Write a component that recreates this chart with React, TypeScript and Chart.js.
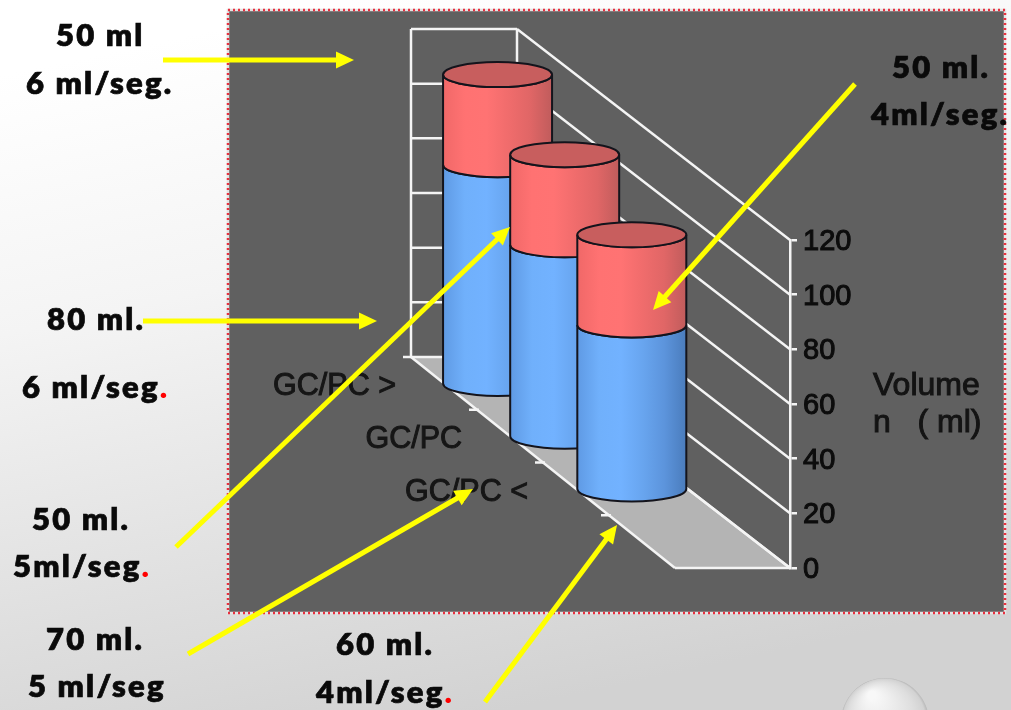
import React, { useEffect, useRef } from "react";
import { Chart, registerables } from "chart.js";

Chart.register(...registerables);

// Series read per injection protocol; the empty fourth slot is part of the depth axis.
const categories = ["GC/PC >", "GC/PC", "GC/PC <", ""];
const flushVolume = [80, 70, 60, null];
const contrastVolume = [50, 50, 50, null];
const volumeTicks = { min: 0, max: 120, step: 20 };
const axisTitle = ["Volume", "n   ( ml)"];

// Callouts: text lines with a flag for the red full stop used on some of them.
const callouts = [
  { lines: [["50 ml", false], ["6 ml/seg.", false]], at: [[56, 46], [26, 94]], arrow: [163, 60, 354, 60] },
  { lines: [["80 ml.", false], ["6 ml/seg", true]], at: [[47, 330], [22, 398]], arrow: [143, 321, 377, 321] },
  { lines: [["50 ml.", false], ["5ml/seg", true]], at: [[32, 530], [13, 577]], arrow: [176, 547, 510, 227] },
  { lines: [["70 ml.", false], ["5 ml/seg", false]], at: [[46, 650], [28, 697]], arrow: [188, 654, 473, 489] },
  { lines: [["60 ml.", false], ["4ml/seg", true]], at: [[336, 655], [316, 703]], arrow: [485, 702, 617, 525] },
  { lines: [["50 ml.", false], ["4ml/seg.", false]], at: [[892, 78], [871, 125]], arrow: [855, 84, 653, 310] },
] as const;

// Oblique projection of the plot box.
const WALL_LEFT = 411;
const WALL_WIDTH = 106;
const DEPTH_DX_NEAR = 264;
const DEPTH_DX_FAR = 273;
const DEPTH_DY = 211;
const CYL_RX = 54.5;
const CYL_RY = 12.5;

const project = (t: number, s: number, yPixel: number) => ({
  x: WALL_LEFT + s * WALL_WIDTH + t * (DEPTH_DX_NEAR + s * (DEPTH_DX_FAR - DEPTH_DX_NEAR)),
  y: yPixel - (1 - t) * DEPTH_DY,
});

// Depth fraction of a category, taken from the category scale.
const depthOf = (chart: any, index: number) =>
  (chart.scales.x.getPixelForValue(index) - chart.chartArea.left) / (chart.chartArea.right - chart.chartArea.left);

function line(ctx: CanvasRenderingContext2D, x0: number, y0: number, x1: number, y1: number) {
  ctx.beginPath();
  ctx.moveTo(x0, y0);
  ctx.lineTo(x1, y1);
  ctx.stroke();
}

function drawBackdrop(chart: any) {
  const { ctx, width, height } = chart;
  const page = ctx.createLinearGradient(width * 0.35, 0, width * 0.5, height);
  page.addColorStop(0, "#ffffff");
  page.addColorStop(0.35, "#f4f4f4");
  page.addColorStop(1, "#d2d2d2");
  ctx.fillStyle = page;
  ctx.fillRect(0, 0, width, height);

  // Glass bead in the lower corner of the slide.
  const bead = ctx.createRadialGradient(872, 695, 4, 885, 722, 44);
  bead.addColorStop(0, "#f8f8f8");
  bead.addColorStop(0.7, "#dedede");
  bead.addColorStop(0.93, "#d2d2d2");
  bead.addColorStop(1, "#b8b8b8");
  ctx.fillStyle = bead;
  ctx.beginPath();
  ctx.arc(885, 722, 44, 0, Math.PI * 2);
  ctx.fill();

  // Plot panel with its dotted edge.
  ctx.fillStyle = "#606060";
  ctx.fillRect(228, 10, 777, 603);
  ctx.save();
  ctx.lineWidth = 2.5;
  ctx.strokeStyle = "#e4e4e4";
  ctx.strokeRect(228, 10, 777, 603);
  ctx.setLineDash([2, 3]);
  ctx.strokeStyle = "#e8303f";
  ctx.strokeRect(228, 10, 777, 603);
  ctx.restore();
}

function drawBox(chart: any) {
  const { ctx } = chart;
  const y = chart.scales.y;
  const zero = y.getPixelForValue(0);
  const a = project(0, 0, zero);
  const b = project(0, 1, zero);
  const c = project(1, 1, zero);
  const d = project(1, 0, zero);

  ctx.save();
  ctx.fillStyle = "#b4b4b4";
  ctx.beginPath();
  ctx.moveTo(a.x, a.y);
  ctx.lineTo(b.x, b.y);
  ctx.lineTo(c.x, c.y);
  ctx.lineTo(d.x, d.y);
  ctx.closePath();
  ctx.fill();

  ctx.strokeStyle = "#f4f4f4";
  ctx.lineWidth = 2.5;
  line(ctx, a.x, a.y, d.x, d.y);
  line(ctx, b.x, b.y, c.x, c.y);
  line(ctx, d.x, d.y, c.x, c.y);

  const top = project(0, 0, y.getPixelForValue(volumeTicks.max));
  const topRight = project(0, 1, y.getPixelForValue(volumeTicks.max));
  line(ctx, a.x, a.y, top.x, top.y);
  line(ctx, b.x, b.y, topRight.x, topRight.y);

  for (let v = volumeTicks.min; v <= volumeTicks.max; v += volumeTicks.step) {
    const p = y.getPixelForValue(v);
    const l = project(0, 0, p);
    const r = project(0, 1, p);
    const f = project(1, 1, p);
    line(ctx, v === volumeTicks.min ? l.x - 8 : l.x, l.y, r.x, r.y);
    line(ctx, r.x, r.y, f.x, f.y);
  }

  // Category separators along the near floor edge.
  for (let i = 1; i < categories.length; i++) {
    const p = project(i / categories.length, 0, zero);
    line(ctx, p.x - 8, p.y, p.x + 2, p.y);
  }

  ctx.font = "32px 'Liberation Sans'";
  ctx.fillStyle = "#141414";
  ctx.strokeStyle = "#141414";
  ctx.lineWidth = 1;
  ctx.textAlign = "left";
  axisTitle.forEach((text, i) => {
    ctx.fillText(text, 873, 395 + i * 37);
    ctx.strokeText(text, 873, 395 + i * 37);
  });
  ctx.restore();
}

function cylinderShade(ctx: CanvasRenderingContext2D, cx: number, stops: string[]) {
  const g = ctx.createLinearGradient(cx - CYL_RX, 0, cx + CYL_RX, 0);
  stops.forEach((colour, i) => g.addColorStop(i / (stops.length - 1), colour));
  return g;
}

function drawSegment(ctx: CanvasRenderingContext2D, cx: number, yTop: number, yBottom: number, stops: string[]) {
  ctx.beginPath();
  ctx.moveTo(cx - CYL_RX, yTop);
  ctx.lineTo(cx - CYL_RX, yBottom);
  ctx.ellipse(cx, yBottom, CYL_RX, CYL_RY, 0, Math.PI, 0, true);
  ctx.lineTo(cx + CYL_RX, yTop);
  ctx.ellipse(cx, yTop, CYL_RX, CYL_RY, 0, 0, Math.PI, false);
  ctx.closePath();
  ctx.fillStyle = cylinderShade(ctx, cx, stops);
  ctx.fill();
  ctx.stroke();
}

const BLUE_SHADE = ["#5f9ae4", "#70b0fb", "#72b2ff", "#68a5ef", "#5c94dc", "#4a7cbc"];
const RED_SHADE = ["#f06868", "#ff7272", "#ff7373", "#f06c6c", "#e06666", "#c05c5c"];

function drawCylinders(chart: any) {
  const { ctx } = chart;
  const y = chart.scales.y;
  const dose = chart.scales.yDose;

  ctx.save();
  ctx.strokeStyle = "#14141c";
  ctx.lineWidth = 2;
  flushVolume.forEach((value, i) => {
    if (value == null) return;
    const t = depthOf(chart, i);
    const base = project(t, 0.5, y.getPixelForValue(0));
    const flushTop = project(t, 0.5, y.getPixelForValue(value));
    // The contrast segment stacks on the flush segment and is sized on its own axis.
    const doseHeight = dose.getPixelForValue(0) - dose.getPixelForValue(contrastVolume[i] as number);
    const topY = flushTop.y - doseHeight;

    drawSegment(ctx, base.x, flushTop.y, base.y, BLUE_SHADE);
    drawSegment(ctx, base.x, topY, flushTop.y, RED_SHADE);
    ctx.beginPath();
    ctx.ellipse(base.x, topY, CYL_RX, CYL_RY, 0, 0, Math.PI * 2);
    ctx.fillStyle = "#c85e5e";
    ctx.fill();
    ctx.stroke();
  });
  ctx.restore();
}

function drawCategoryLabels(chart: any) {
  const { ctx } = chart;
  const y = chart.scales.y;
  ctx.save();
  ctx.font = "30.5px 'Liberation Sans'";
  ctx.fillStyle = "#161616";
  ctx.strokeStyle = "#161616";
  ctx.lineWidth = 1;
  ctx.textAlign = "right";
  categories.forEach((label, i) => {
    if (!label) return;
    const p = project(depthOf(chart, i), 0, y.getPixelForValue(0));
    ctx.fillText(label, p.x - 48, p.y + 12);
    ctx.strokeText(label, p.x - 48, p.y + 12);
  });
  ctx.restore();
}

function drawCallouts(chart: any) {
  const { ctx } = chart;
  ctx.save();
  for (const c of callouts) {
    const [x0, y0, x1, y1] = c.arrow;
    const angle = Math.atan2(y1 - y0, x1 - x0);
    const head = 18;
    const cos = Math.cos(angle);
    const sin = Math.sin(angle);
    ctx.strokeStyle = "#ffff00";
    ctx.fillStyle = "#ffff00";
    ctx.lineWidth = 5;
    line(ctx, x0, y0, x1 - cos * head * 0.8, y1 - sin * head * 0.8);
    ctx.beginPath();
    ctx.moveTo(x1, y1);
    ctx.lineTo(x1 - cos * head - sin * 8.5, y1 - sin * head + cos * 8.5);
    ctx.lineTo(x1 - cos * head + sin * 8.5, y1 - sin * head - cos * 8.5);
    ctx.closePath();
    ctx.fill();

    ctx.font = "800 31px Lato";
    (ctx as any).letterSpacing = "2.2px";
    ctx.textAlign = "left";
    ctx.lineWidth = 0.7;
    c.lines.forEach(([text, redStop], i) => {
      const [tx, ty] = c.at[i];
      ctx.fillStyle = "#0a0a0a";
      ctx.strokeStyle = "#0a0a0a";
      ctx.fillText(text as string, tx, ty);
      ctx.strokeText(text as string, tx, ty);
      if (redStop) {
        ctx.fillStyle = "#ff0000";
        ctx.fillText(".", tx + ctx.measureText(text as string).width, ty);
      }
    });
  }
  ctx.restore();
}

const obliquePlugin = {
  id: "obliquePlugin",
  beforeDraw: drawBackdrop,
  beforeDatasetsDraw: drawBox,
  afterDatasetsDraw(chart: any) {
    drawCategoryLabels(chart);
    drawCylinders(chart);
  },
  afterDraw: drawCallouts,
};

export default function App() {
  const ref = useRef<HTMLCanvasElement>(null);

  useEffect(() => {
    const chart = new Chart(ref.current!, {
      type: "bar",
      data: {
        labels: categories,
        datasets: [
          { label: "Flush", data: flushVolume, yAxisID: "y", backgroundColor: "transparent", borderWidth: 0 },
          { label: "Contrast", data: contrastVolume, yAxisID: "yDose", backgroundColor: "transparent", borderWidth: 0 },
        ],
      },
      options: {
        responsive: false,
        animation: false,
        layout: { padding: { left: 517, top: 240, right: 151, bottom: 142 } },
        plugins: { legend: { display: false }, tooltip: { enabled: false } },
        events: [],
        scales: {
          x: { display: false },
          y: {
            position: "right",
            min: volumeTicks.min,
            max: volumeTicks.max,
            afterFit(scale: any) {
              scale.width = 70;
            },
            ticks: {
              stepSize: volumeTicks.step,
              color: "#0c0c0c",
              padding: 6,
              labelOffset: 2,
              textStrokeColor: "#0c0c0c",
              textStrokeWidth: 1,
              font: { family: "'Liberation Sans'", size: 29 },
            },
            grid: { drawOnChartArea: false, color: "#f4f4f4", lineWidth: 2.5, tickLength: 7 },
            border: { color: "#f4f4f4", width: 2.5 },
          },
          yDose: { display: false, position: "right", min: 0, max: 182 },
        },
      },
      plugins: [obliquePlugin],
    } as any);
    return () => chart.destroy();
  }, []);

  return (
    <canvas
      ref={ref}
      width={1011}
      height={710}
      style={{ position: "absolute", left: 0, top: 0, display: "block" }}
    />
  );
}
